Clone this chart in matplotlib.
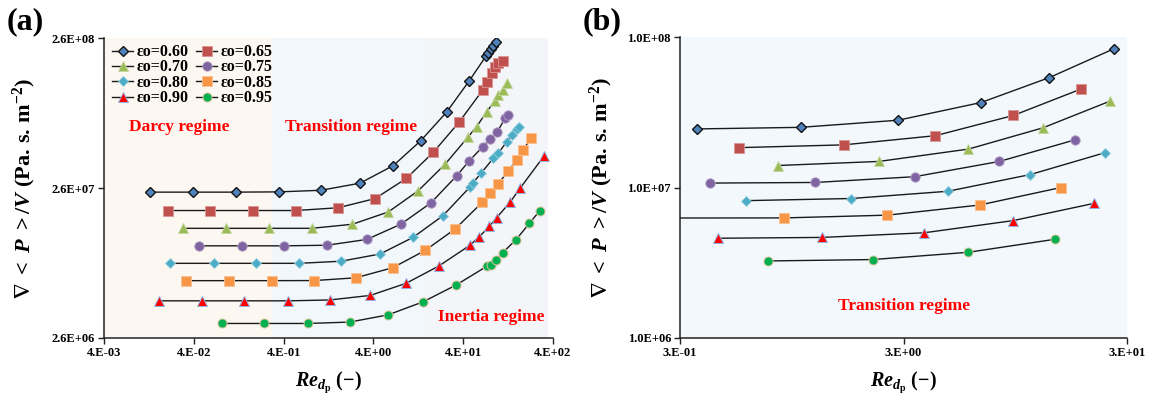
import matplotlib
matplotlib.use("Agg")
import numpy as np
import matplotlib.pyplot as plt
from matplotlib.ticker import FixedLocator, FixedFormatter, NullLocator

plt.rcParams["font.family"] = ["Liberation Serif", "DejaVu Serif"]
plt.rcParams["font.weight"] = "bold"
plt.rcParams["mathtext.fontset"] = "custom"
plt.rcParams["mathtext.rm"] = "Liberation Serif:bold"
plt.rcParams["mathtext.bf"] = "Liberation Serif:bold"
plt.rcParams["mathtext.it"] = "Liberation Serif:italic:bold"
plt.rcParams["mathtext.fallback"] = "stix"

# ---- data: pressure gradient vs particle Reynolds number, per porosity ----
porosity_labels = ["εo=0.60", "εo=0.65", "εo=0.70", "εo=0.75",
                   "εo=0.80", "εo=0.85", "εo=0.90", "εo=0.95"]

re_060 = [0.0130, 0.0395, 0.118, 0.356, 1.04, 2.84, 6.67, 13.5, 26.2, 46.8,
          71.8, 76.1, 81.6, 86.5, 92.8]
dp_060 = [2.44e7, 2.44e7, 2.44e7, 2.45e7, 2.51e7, 2.80e7, 3.67e7, 5.38e7,
          8.35e7, 1.35e8, 1.97e8, 2.08e8, 2.20e8, 2.31e8, 2.44e8]

re_065 = [0.0205, 0.0611, 0.184, 0.550, 1.62, 4.17, 9.30, 18.6, 35.9, 66.0,
          74.2, 83.0, 90.4, 98.4, 110.0]
dp_065 = [1.84e7, 1.84e7, 1.84e7, 1.84e7, 1.92e7, 2.21e7, 3.01e7, 4.50e7,
          7.13e7, 1.17e8, 1.33e8, 1.51e8, 1.66e8, 1.76e8, 1.84e8]

re_070 = [0.0306, 0.0914, 0.277, 0.822, 2.33, 5.86, 12.6, 25.2, 45.6, 56.5,
          73.1, 90.4, 98.4, 112.0, 122.0]
dp_070 = [1.40e7, 1.40e7, 1.40e7, 1.40e7, 1.49e7, 1.80e7, 2.49e7, 3.75e7,
          5.72e7, 6.67e7, 8.39e7, 9.93e7, 1.08e8, 1.17e8, 1.30e8]

re_075 = [0.0454, 0.137, 0.407, 1.21, 3.37, 8.06, 17.5, 33.9, 46.8, 66.0,
          79.5, 96.0, 117.0, 127.0]
dp_075 = [1.07e7, 1.07e7, 1.07e7, 1.08e7, 1.18e7, 1.49e7, 2.07e7, 3.14e7,
          3.95e7, 4.90e7, 5.49e7, 6.17e7, 7.58e7, 7.97e7]

re_080 = [0.0219, 0.0666, 0.197, 0.595, 1.75, 4.74, 11.1, 23.8, 47.6, 51.4,
          63.1, 86.5, 98.4, 122.0, 139.0, 158.0, 169.0]
dp_080 = [8.18e6, 8.18e6, 8.18e6, 8.18e6, 8.45e6, 9.44e6, 1.22e7, 1.70e7,
          2.64e7, 2.81e7, 3.26e7, 4.10e7, 4.43e7, 5.29e7, 5.87e7, 6.40e7, 6.67e7]

re_085 = [0.0327, 0.0978, 0.294, 0.879, 2.54, 6.58, 15.2, 32.7, 65.3, 79.5,
          96.8, 126.0, 158.0, 187.0, 226.0]
dp_085 = [6.27e6, 6.27e6, 6.27e6, 6.28e6, 6.55e6, 7.65e6, 1.00e7, 1.39e7,
          2.09e7, 2.40e7, 2.75e7, 3.35e7, 4.00e7, 4.66e7, 5.62e7]

re_090 = [0.0164, 0.0490, 0.146, 0.445, 1.30, 3.70, 9.25, 21.4, 47.6, 60.4,
          78.2, 94.4, 133.0, 172.0, 318.0]
dp_090 = [4.60e6, 4.60e6, 4.60e6, 4.60e6, 4.66e6, 5.00e6, 6.02e6, 7.85e6,
          1.08e7, 1.23e7, 1.44e7, 1.65e7, 2.09e7, 2.59e7, 4.25e7]

re_095 = [0.0818, 0.244, 0.740, 2.18, 5.84, 14.3, 33.3, 74.2, 81.6, 92.0,
          110.0, 154.0, 218.0, 286.0]
dp_095 = [3.25e6, 3.25e6, 3.25e6, 3.32e6, 3.71e6, 4.53e6, 5.86e6, 7.85e6,
          7.98e6, 8.58e6, 9.64e6, 1.17e7, 1.51e7, 1.84e7]

re_series = [re_060, re_065, re_070, re_075, re_080, re_085, re_090, re_095]
dp_series = [dp_060, dp_065, dp_070, dp_075, dp_080, dp_085, dp_090, dp_095]

# flow regime bounds along Re_dp (panel a)
regime_bounds = [4e-3, 0.3, 15.0, 350.0]
regime_names = ["Darcy regime", "Transition regime", "Inertia regime"]

# axis ticks
xticks_a = [4e-3, 4e-2, 4e-1, 4e0, 4e1, 4e2]
xticklabels_a = ["4.E-03", "4.E-02", "4.E-01", "4.E+00", "4.E+01", "4.E+02"]
yticks_a = [2.6e6, 2.6e7, 2.6e8]
yticklabels_a = ["2.6E+06", "2.6E+07", "2.6E+08"]
xticks_b = [3e-1, 3e0, 3e1]
xticklabels_b = ["3.E-01", "3.E+00", "3.E+01"]
yticks_b = [1e6, 1e7, 1e8]
yticklabels_b = ["1.0E+06", "1.0E+07", "1.0E+08"]
window_b = (0.29, 30.0)   # Re_dp data window drawn in panel b

# ---- styles ----
styles = [
    dict(marker="D", ms=5.0, mfc="#4F81BD", mec="#141414", mew=1.0),
    dict(marker="s", ms=7.0, mfc="#C0504D", mec="#D99694", mew=0.6),
    dict(marker="^", ms=7.5, mfc="#9BBB59", mec="#C3D69B", mew=0.6),
    dict(marker="o", ms=6.8, mfc="#8064A2", mec="#B3A2C7", mew=0.6),
    dict(marker="D", ms=4.8, mfc="#4BACC6", mec="#93CDDD", mew=0.6),
    dict(marker="s", ms=7.0, mfc="#F79646", mec="#FAC090", mew=0.6),
    dict(marker="^", ms=7.0, mfc="#FF0000", mec="#8EB4E3", mew=0.7),
    dict(marker="o", ms=6.5, mfc="#00B050", mec="#D9C49B", mew=0.7),
]
line_kw = dict(color="#1a1a1a", lw=1.0)
red = "#FF0000"

ylabel_text = (r"$\mathbf{\nabla}\ <\ \mathit{P}\ >/\mathit{V}\ "
               r"(\mathrm{Pa.\,s.\,m}^{-2})$")
xlabel_text = r"$\mathit{Re}_{\mathit{d}_{\mathrm{p}}}\ (-)$"

fig = plt.figure(figsize=(11.51, 3.94), dpi=100)
ax_a = fig.add_axes([104 / 1151, 1 - 338 / 394, 449 / 1151, 300 / 394])
ax_b = fig.add_axes([680 / 1151, 1 - 338 / 394, 447 / 1151, 301 / 394])


def style_axes(ax, xt, xtl, yt, ytl):
    ax.set_xscale("log")
    ax.set_yscale("log")
    ax.xaxis.set_major_locator(FixedLocator(xt))
    ax.xaxis.set_major_formatter(FixedFormatter(xtl))
    ax.yaxis.set_major_locator(FixedLocator(yt))
    ax.yaxis.set_major_formatter(FixedFormatter(ytl))
    ax.xaxis.set_minor_locator(NullLocator())
    ax.yaxis.set_minor_locator(NullLocator())
    ax.set_xlim(xt[0], xt[-1])
    ax.set_ylim(yt[0], yt[-1])
    for s in ("top", "right"):
        ax.spines[s].set_visible(False)
    for s in ("left", "bottom"):
        ax.spines[s].set_linewidth(1.1)
        ax.spines[s].set_color("#222222")
    ax.tick_params(axis="both", which="major", direction="out", length=4,
                   width=1.0, labelsize=9, color="#222222", pad=2.5)
    for lab in ax.get_xticklabels() + ax.get_yticklabels():
        lab.set_fontweight("bold")
    ax.set_ylabel(ylabel_text, fontsize=16)
    ax.set_xlabel(xlabel_text, fontsize=14.5)
    ax.yaxis.set_label_coords(-0.146, 0.5)
    ax.xaxis.set_label_coords(0.5, -0.105)


# ---- panel (a) ----
style_axes(ax_a, xticks_a, xticklabels_a, yticks_a, yticklabels_a)
for lo, hi, c in zip(regime_bounds[:-1], regime_bounds[1:],
                     ["#FDF7F1", "#F1F7FB", "#F3F5F9"]):
    ax_a.axvspan(lo, hi, color=c, lw=0, zorder=0)

handles = []
for re, dp, st, lab in zip(re_series, dp_series, styles, porosity_labels):
    h, = ax_a.plot(re, dp, label=lab, zorder=3, **line_kw, **st)
    handles.append(h)

# legend reads row by row: 0.60 | 0.65, 0.70 | 0.75, ...
order = [0, 2, 4, 6, 1, 3, 5, 7]
ax_a.legend(handles=[handles[i] for i in order], ncol=2, loc="upper left",
            bbox_to_anchor=(0.014, 0.985), frameon=False, fontsize=11.5,
            handlelength=1.35, handletextpad=0.2, columnspacing=0.45,
            labelspacing=-0.04, borderpad=0.1, borderaxespad=0.0)

ax_a.text(0.167, 0.703, regime_names[0], transform=ax_a.transAxes, color=red,
          fontsize=12.5, fontweight="bold", ha="center", va="center")
ax_a.text(0.550, 0.703, regime_names[1], transform=ax_a.transAxes, color=red,
          fontsize=12.5, fontweight="bold", ha="center", va="center")
ax_a.text(0.862, 0.070, regime_names[2], transform=ax_a.transAxes, color=red,
          fontsize=12.5, fontweight="bold", ha="center", va="center")

# ---- panel (b): the same series within the transition window ----
style_axes(ax_b, xticks_b, xticklabels_b, yticks_b, yticklabels_b)
ax_b.set_facecolor("#F2F8FB")
lo_b, hi_b = window_b
for re, dp, st in zip(re_series, dp_series, styles):
    re = np.asarray(re)
    dp = np.asarray(dp)
    sel = (re >= lo_b) & (re <= hi_b)
    ax_b.plot(re[sel], dp[sel], zorder=2, **line_kw)
    vis = sel & (re >= xticks_b[0])
    ax_b.plot(re[vis], dp[vis], ls="none", zorder=3, **st)

ax_b.text(0.501, 0.106, "Transition regime", transform=ax_b.transAxes,
          color=red, fontsize=12.5, fontweight="bold", ha="center", va="center")

fig.text(7 / 1151, 1 - 22 / 394, "(a)", fontsize=23, fontweight="bold",
         ha="left", va="center")
fig.text(583 / 1151, 1 - 22 / 394, "(b)", fontsize=23, fontweight="bold",
         ha="left", va="center")

fig.savefig("out.png", dpi=100)
